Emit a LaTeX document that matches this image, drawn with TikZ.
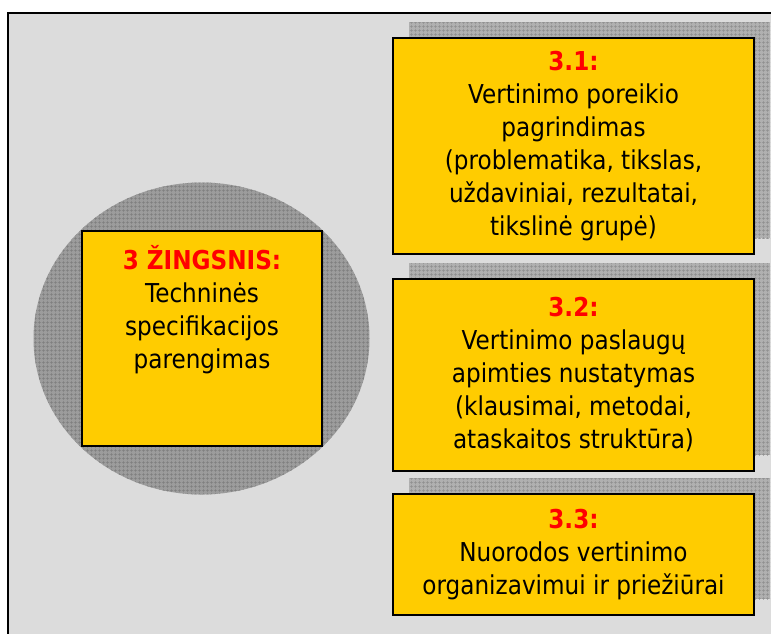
\documentclass[tikz,border=0pt]{standalone}
\usepackage{fontspec}
\setmainfont{DejaVu Sans}[FakeStretch=0.89]
\usetikzlibrary{patterns.meta,shadows}
\definecolor{stepyellow}{HTML}{FFCC00}
\definecolor{framegray}{HTML}{DCDCDC}
\definecolor{shadegray}{HTML}{B0B0B0}
\definecolor{shadegrid}{HTML}{8E8E8E}
\definecolor{discgray}{HTML}{9C9C9C}
\definecolor{discgrid}{HTML}{7E7E7E}
\newcommand{\stepfont}{\fontsize{26}{33}\selectfont}
\newcommand{\headtxt}[1]{{\bfseries\color{red}#1}}
\tikzset{
  stepcard/.style={draw, line width=1.6pt, fill=stepyellow, align=center,
    font=\stepfont, inner sep=4pt},
  subcard/.style={stepcard, minimum width=361pt,
    drop shadow={shadow xshift=16pt, shadow yshift=16pt, opacity=1, fill=shadegray,
      postaction={pattern={Hatch[distance=4pt, line width=0.6pt]}, pattern color=shadegrid}}},
}

\begin{document}
\begin{tikzpicture}[x=1pt, y=-1pt]
  \useasboundingbox (0,0) rectangle (771,633);
  \clip (0,0) rectangle (771,633);
  % grauer Rahmen
  \draw[line width=1.5pt, fill=framegray] (8,13) rectangle (790,650);
  % Scheibe hinter dem Schritt
  \fill[discgray, postaction={pattern={Hatch[distance=4pt, line width=0.6pt]}, pattern color=discgrid}]
    (201.5,338.5) ellipse [x radius=168pt, y radius=156pt];
  \node[stepcard, minimum width=240pt, minimum height=215pt] (step) at (202,338.5) {};
  \node[anchor=north, align=center, font=\stepfont] (steptext) at ([yshift=-12pt]step.north)
    {\headtxt{3 ŽINGSNIS:}\\Techninės\\specifikacijos\\parengimas};
  % Teilschritte
  \node[subcard, minimum height=216pt] (sub1) at (573.5,146)
    {\headtxt{3.1:}\\Vertinimo poreikio\\pagrindimas\\(problematika, tikslas,\\uždaviniai, rezultatai,\\tikslinė grupė)};
  \node[subcard, minimum height=192pt] (sub2) at (573.5,375)
    {\headtxt{3.2:}\\Vertinimo paslaugų\\apimties nustatymas\\(klausimai, metodai,\\ataskaitos struktūra)};
  \node[subcard, minimum height=121pt] (sub3) at (573.5,554.5)
    {\headtxt{3.3:}\\Nuorodos vertinimo\\organizavimui ir priežiūrai};
\end{tikzpicture}
\end{document}
